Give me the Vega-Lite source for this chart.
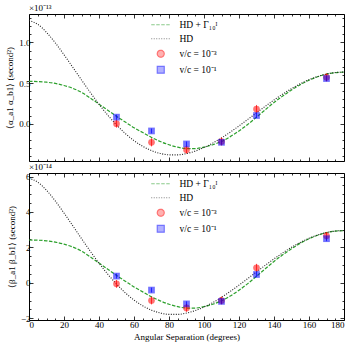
{
  "$schema": "https://vega.github.io/schema/vega-lite/v6.json",
  "padding": {"left": 5, "right": 5, "top": 3, "bottom": 3},
  "spacing": 0,
  "config": {
    "font": "Liberation Serif",
    "view": {"stroke": "black", "strokeWidth": 1},
    "title": {"font": "Liberation Serif", "fontWeight": "normal", "fontSize": 9, "color": "black"},
    "axis": {"labelFont": "Liberation Serif", "titleFont": "Liberation Serif", "labelFontSize": 9, "titleFontSize": 9, "titleFontWeight": "normal", "domain": false, "grid": false, "tickColor": "black", "labelColor": "black", "titleColor": "black", "tickWidth": 0.8},
    "legend": {"labelFont": "Liberation Serif", "labelFontSize": 9.5, "labelColor": "black"}
  },
  "datasets": {
    "green": [
      {"angle": 0, "series": "HD + Γ₁₀ᴵ", "a": 0.52, "b": 2.416},
      {"angle": 5, "series": "HD + Γ₁₀ᴵ", "a": 0.518, "b": 2.407},
      {"angle": 10, "series": "HD + Γ₁₀ᴵ", "a": 0.51, "b": 2.369},
      {"angle": 15, "series": "HD + Γ₁₀ᴵ", "a": 0.495, "b": 2.300},
      {"angle": 20, "series": "HD + Γ₁₀ᴵ", "a": 0.47, "b": 2.184},
      {"angle": 25, "series": "HD + Γ₁₀ᴵ", "a": 0.435, "b": 2.021},
      {"angle": 30, "series": "HD + Γ₁₀ᴵ", "a": 0.385, "b": 1.789},
      {"angle": 35, "series": "HD + Γ₁₀ᴵ", "a": 0.315, "b": 1.463},
      {"angle": 40, "series": "HD + Γ₁₀ᴵ", "a": 0.24, "b": 1.115},
      {"angle": 45, "series": "HD + Γ₁₀ᴵ", "a": 0.165, "b": 0.767},
      {"angle": 50, "series": "HD + Γ₁₀ᴵ", "a": 0.09, "b": 0.418},
      {"angle": 55, "series": "HD + Γ₁₀ᴵ", "a": 0.02, "b": 0.093},
      {"angle": 60, "series": "HD + Γ₁₀ᴵ", "a": -0.05, "b": -0.232},
      {"angle": 65, "series": "HD + Γ₁₀ᴵ", "a": -0.11, "b": -0.511},
      {"angle": 70, "series": "HD + Γ₁₀ᴵ", "a": -0.17, "b": -0.790},
      {"angle": 75, "series": "HD + Γ₁₀ᴵ", "a": -0.22, "b": -1.022},
      {"angle": 80, "series": "HD + Γ₁₀ᴵ", "a": -0.26, "b": -1.208},
      {"angle": 85, "series": "HD + Γ₁₀ᴵ", "a": -0.29, "b": -1.347},
      {"angle": 90, "series": "HD + Γ₁₀ᴵ", "a": -0.307, "b": -1.426},
      {"angle": 95, "series": "HD + Γ₁₀ᴵ", "a": -0.307, "b": -1.426},
      {"angle": 100, "series": "HD + Γ₁₀ᴵ", "a": -0.29, "b": -1.347},
      {"angle": 105, "series": "HD + Γ₁₀ᴵ", "a": -0.26, "b": -1.208},
      {"angle": 110, "series": "HD + Γ₁₀ᴵ", "a": -0.22, "b": -1.022},
      {"angle": 115, "series": "HD + Γ₁₀ᴵ", "a": -0.16, "b": -0.743},
      {"angle": 120, "series": "HD + Γ₁₀ᴵ", "a": -0.09, "b": -0.418},
      {"angle": 125, "series": "HD + Γ₁₀ᴵ", "a": -0.01, "b": -0.046},
      {"angle": 130, "series": "HD + Γ₁₀ᴵ", "a": 0.08, "b": 0.372},
      {"angle": 135, "series": "HD + Γ₁₀ᴵ", "a": 0.17, "b": 0.790},
      {"angle": 140, "series": "HD + Γ₁₀ᴵ", "a": 0.26, "b": 1.208},
      {"angle": 145, "series": "HD + Γ₁₀ᴵ", "a": 0.34, "b": 1.580},
      {"angle": 150, "series": "HD + Γ₁₀ᴵ", "a": 0.415, "b": 1.928},
      {"angle": 155, "series": "HD + Γ₁₀ᴵ", "a": 0.48, "b": 2.230},
      {"angle": 160, "series": "HD + Γ₁₀ᴵ", "a": 0.535, "b": 2.486},
      {"angle": 165, "series": "HD + Γ₁₀ᴵ", "a": 0.578, "b": 2.685},
      {"angle": 170, "series": "HD + Γ₁₀ᴵ", "a": 0.61, "b": 2.834},
      {"angle": 175, "series": "HD + Γ₁₀ᴵ", "a": 0.628, "b": 2.918},
      {"angle": 180, "series": "HD + Γ₁₀ᴵ", "a": 0.635, "b": 2.950}
    ],
    "hd": [
      {"angle": 0, "series": "HD", "a": 1.270, "b": 5.900},
      {"angle": 5, "series": "HD", "a": 1.223, "b": 5.683},
      {"angle": 10, "series": "HD", "a": 1.124, "b": 5.222},
      {"angle": 15, "series": "HD", "a": 0.995, "b": 4.622},
      {"angle": 20, "series": "HD", "a": 0.849, "b": 3.942},
      {"angle": 25, "series": "HD", "a": 0.694, "b": 3.224},
      {"angle": 30, "series": "HD", "a": 0.538, "b": 2.497},
      {"angle": 35, "series": "HD", "a": 0.385, "b": 1.787},
      {"angle": 40, "series": "HD", "a": 0.239, "b": 1.112},
      {"angle": 45, "series": "HD", "a": 0.105, "b": 0.488},
      {"angle": 50, "series": "HD", "a": -0.016, "b": -0.073},
      {"angle": 55, "series": "HD", "a": -0.121, "b": -0.561},
      {"angle": 60, "series": "HD", "a": -0.209, "b": -0.972},
      {"angle": 65, "series": "HD", "a": -0.280, "b": -1.300},
      {"angle": 70, "series": "HD", "a": -0.332, "b": -1.544},
      {"angle": 75, "series": "HD", "a": -0.367, "b": -1.705},
      {"angle": 80, "series": "HD", "a": -0.384, "b": -1.783},
      {"angle": 85, "series": "HD", "a": -0.384, "b": -1.783},
      {"angle": 90, "series": "HD", "a": -0.368, "b": -1.709},
      {"angle": 95, "series": "HD", "a": -0.338, "b": -1.569},
      {"angle": 100, "series": "HD", "a": -0.294, "b": -1.368},
      {"angle": 105, "series": "HD", "a": -0.240, "b": -1.115},
      {"angle": 110, "series": "HD", "a": -0.176, "b": -0.818},
      {"angle": 115, "series": "HD", "a": -0.105, "b": -0.487},
      {"angle": 120, "series": "HD", "a": -0.028, "b": -0.131},
      {"angle": 125, "series": "HD", "a": 0.052, "b": 0.239},
      {"angle": 130, "series": "HD", "a": 0.133, "b": 0.616},
      {"angle": 135, "series": "HD", "a": 0.213, "b": 0.990},
      {"angle": 140, "series": "HD", "a": 0.291, "b": 1.351},
      {"angle": 145, "series": "HD", "a": 0.364, "b": 1.691},
      {"angle": 150, "series": "HD", "a": 0.431, "b": 2.003},
      {"angle": 155, "series": "HD", "a": 0.491, "b": 2.279},
      {"angle": 160, "series": "HD", "a": 0.541, "b": 2.514},
      {"angle": 165, "series": "HD", "a": 0.581, "b": 2.701},
      {"angle": 170, "series": "HD", "a": 0.611, "b": 2.838},
      {"angle": 175, "series": "HD", "a": 0.629, "b": 2.922},
      {"angle": 180, "series": "HD", "a": 0.635, "b": 2.950}
    ],
    "pts": [
      {"angle": 50, "series": "v/c = 10⁻³", "a": 0.00, "a_lo": -0.05, "a_hi": 0.05, "b": -0.06, "b_lo": -0.28, "b_hi": 0.16},
      {"angle": 70, "series": "v/c = 10⁻³", "a": -0.23, "a_lo": -0.28, "a_hi": -0.18, "b": -1.0, "b_lo": -1.22, "b_hi": -0.78},
      {"angle": 90, "series": "v/c = 10⁻³", "a": -0.32, "a_lo": -0.37, "a_hi": -0.27, "b": -1.42, "b_lo": -1.64, "b_hi": -1.2},
      {"angle": 110, "series": "v/c = 10⁻³", "a": -0.22, "a_lo": -0.27, "a_hi": -0.17, "b": -1.0, "b_lo": -1.22, "b_hi": -0.78},
      {"angle": 130, "series": "v/c = 10⁻³", "a": 0.18, "a_lo": 0.13, "a_hi": 0.23, "b": 0.85, "b_lo": 0.63, "b_hi": 1.07},
      {"angle": 170, "series": "v/c = 10⁻³", "a": 0.57, "a_lo": 0.52, "a_hi": 0.62, "b": 2.65, "b_lo": 2.43, "b_hi": 2.87},
      {"angle": 50, "series": "v/c = 10⁻¹", "a": 0.08, "a_lo": 0.05, "a_hi": 0.11, "b": 0.38, "b_lo": 0.24, "b_hi": 0.52},
      {"angle": 70, "series": "v/c = 10⁻¹", "a": -0.09, "a_lo": -0.12, "a_hi": -0.06, "b": -0.41, "b_lo": -0.55, "b_hi": -0.27},
      {"angle": 90, "series": "v/c = 10⁻¹", "a": -0.25, "a_lo": -0.28, "a_hi": -0.22, "b": -1.19, "b_lo": -1.33, "b_hi": -1.05},
      {"angle": 110, "series": "v/c = 10⁻¹", "a": -0.23, "a_lo": -0.26, "a_hi": -0.2, "b": -1.05, "b_lo": -1.19, "b_hi": -0.91},
      {"angle": 130, "series": "v/c = 10⁻¹", "a": 0.10, "a_lo": 0.07, "a_hi": 0.13, "b": 0.47, "b_lo": 0.33, "b_hi": 0.61},
      {"angle": 170, "series": "v/c = 10⁻¹", "a": 0.555, "a_lo": 0.525, "a_hi": 0.585, "b": 2.49, "b_lo": 2.35, "b_hi": 2.63}
    ]
  },
  "resolve": {"scale": {"color": "independent", "shape": "independent", "strokeDash": "independent"}},
  "vconcat": [
    {
      "width": 315, "height": 147,
      "title": {"text": "×10⁻¹³", "anchor": "start", "frame": "group", "offset": 1},
      "resolve": {"axis": {"x": "independent", "y": "independent"}},
      "layer": [
        {
          "data": {"name": "green"},
          "mark": {"type": "line", "strokeWidth": 1.2, "interpolate": "monotone"},
          "encoding": {
            "x": {"field": "angle", "type": "quantitative", "scale": {"domain": [0, 180], "nice": false}, "axis": {"orient": "bottom", "values": [0, 20, 40, 60, 80, 100, 120, 140, 160, 180], "tickSize": -4, "labels": false, "title": null}},
            "y": {"field": "a", "type": "quantitative", "scale": {"domain": [-0.46, 1.35], "nice": false, "zero": false}, "axis": {"orient": "left", "values": [0, 0.5, 1.0], "format": ".1f", "tickSize": -4, "labelPadding": 3, "title": "⟨α_a1 α_b1⟩ (second²)", "titlePadding": 4}},
            "color": {"field": "series", "type": "nominal", "scale": {"domain": ["HD + Γ₁₀ᴵ", "HD", "v/c = 10⁻³", "v/c = 10⁻¹"], "range": ["#2ca02c", "#222222", "#ff0000", "#0000ff"]},
              "legend": {"orient": "none", "legendX": 127, "legendY": 6, "title": null, "padding": 0, "rowPadding": 3, "labelOffset": 14, "symbolSize": 48, "symbolStrokeWidth": 1.2}},
            "strokeDash": {"field": "series", "type": "nominal", "scale": {"domain": ["HD + Γ₁₀ᴵ", "HD", "v/c = 10⁻³", "v/c = 10⁻¹"], "range": [[3.5, 1.5], [1, 1.5], [1, 0], [1, 0]]}}
          }
        },
        {
          "data": {"name": "hd"},
          "mark": {"type": "line", "strokeWidth": 1.1, "interpolate": "monotone"},
          "encoding": {
            "x": {"field": "angle", "type": "quantitative", "axis": {"orient": "bottom", "values": [5, 10, 15, 25, 30, 35, 45, 50, 55, 65, 70, 75, 85, 90, 95, 105, 110, 115, 125, 130, 135, 145, 150, 155, 165, 170, 175], "tickSize": -2, "labels": false, "title": null}},
            "y": {"field": "a", "type": "quantitative", "axis": {"orient": "left", "values": [-0.4, -0.3, -0.2, -0.1, 0.1, 0.2, 0.3, 0.4, 0.6, 0.7, 0.8, 0.9, 1.1, 1.2, 1.3], "tickSize": -2, "labels": false, "title": null}},
            "color": {"field": "series", "type": "nominal", "legend": null},
            "strokeDash": {"field": "series", "type": "nominal", "legend": null}
          }
        },
        {
          "data": {"name": "pts"},
          "mark": {"type": "rule", "strokeWidth": 1, "opacity": 0.7},
          "encoding": {
            "x": {"field": "angle", "type": "quantitative", "axis": {"orient": "top", "values": [0, 20, 40, 60, 80, 100, 120, 140, 160, 180], "tickSize": -4, "labels": false, "title": null}},
            "y": {"field": "a_lo", "type": "quantitative", "axis": {"orient": "right", "values": [0, 0.5, 1.0], "tickSize": -4, "labels": false, "title": null}},
            "y2": {"field": "a_hi"},
            "color": {"field": "series", "type": "nominal", "legend": null}
          }
        },
        {
          "data": {"name": "pts"},
          "mark": {"type": "point", "filled": true, "opacity": 0.55, "size": 45},
          "encoding": {
            "x": {"field": "angle", "type": "quantitative", "axis": {"orient": "top", "values": [5, 10, 15, 25, 30, 35, 45, 50, 55, 65, 70, 75, 85, 90, 95, 105, 110, 115, 125, 130, 135, 145, 150, 155, 165, 170, 175], "tickSize": -2, "labels": false, "title": null}},
            "y": {"field": "a", "type": "quantitative", "axis": {"orient": "right", "values": [-0.4, -0.3, -0.2, -0.1, 0.1, 0.2, 0.3, 0.4, 0.6, 0.7, 0.8, 0.9, 1.1, 1.2, 1.3], "tickSize": -2, "labels": false, "title": null}},
            "color": {"field": "series", "type": "nominal", "legend": null},
            "shape": {"field": "series", "type": "nominal", "scale": {"domain": ["HD + Γ₁₀ᴵ", "HD", "v/c = 10⁻³", "v/c = 10⁻¹"], "range": ["M-2.75,0H2.75", "M-2.75,0H2.75", "circle", "square"]}}
          }
        }
      ]
    },
    {
      "width": 315, "height": 147,
      "title": {"text": "×10⁻¹⁴", "anchor": "start", "frame": "group", "offset": 1},
      "resolve": {"axis": {"x": "independent", "y": "independent"}},
      "layer": [
        {
          "data": {"name": "green"},
          "mark": {"type": "line", "strokeWidth": 1.2, "interpolate": "monotone"},
          "encoding": {
            "x": {"field": "angle", "type": "quantitative", "scale": {"domain": [0, 180], "nice": false}, "axis": {"orient": "bottom", "values": [0, 20, 40, 60, 80, 100, 120, 140, 160, 180], "tickSize": -4, "labelPadding": 4, "title": "Angular Separation (degrees)", "titlePadding": 3}},
            "y": {"field": "b", "type": "quantitative", "scale": {"domain": [-2.1, 6.2], "nice": false, "zero": false}, "axis": {"orient": "left", "values": [-2, 0, 2, 4, 6], "tickSize": -4, "labelPadding": 3, "title": "⟨β_a1 β_b1⟩ (second²)", "titlePadding": 4}},
            "color": {"field": "series", "type": "nominal", "scale": {"domain": ["HD + Γ₁₀ᴵ", "HD", "v/c = 10⁻³", "v/c = 10⁻¹"], "range": ["#2ca02c", "#222222", "#ff0000", "#0000ff"]},
              "legend": {"orient": "none", "legendX": 127, "legendY": 6, "title": null, "padding": 0, "rowPadding": 3, "labelOffset": 14, "symbolSize": 48, "symbolStrokeWidth": 1.2}},
            "strokeDash": {"field": "series", "type": "nominal", "scale": {"domain": ["HD + Γ₁₀ᴵ", "HD", "v/c = 10⁻³", "v/c = 10⁻¹"], "range": [[3.5, 1.5], [1, 1.5], [1, 0], [1, 0]]}}
          }
        },
        {
          "data": {"name": "hd"},
          "mark": {"type": "line", "strokeWidth": 1.1, "interpolate": "monotone"},
          "encoding": {
            "x": {"field": "angle", "type": "quantitative", "axis": {"orient": "bottom", "values": [5, 10, 15, 25, 30, 35, 45, 50, 55, 65, 70, 75, 85, 90, 95, 105, 110, 115, 125, 130, 135, 145, 150, 155, 165, 170, 175], "tickSize": -2, "labels": false, "title": null}},
            "y": {"field": "b", "type": "quantitative", "axis": {"orient": "left", "values": [-1.5, -1, -0.5, 0.5, 1, 1.5, 2.5, 3, 3.5, 4.5, 5, 5.5], "tickSize": -2, "labels": false, "title": null}},
            "color": {"field": "series", "type": "nominal", "legend": null},
            "strokeDash": {"field": "series", "type": "nominal", "legend": null}
          }
        },
        {
          "data": {"name": "pts"},
          "mark": {"type": "rule", "strokeWidth": 1, "opacity": 0.7},
          "encoding": {
            "x": {"field": "angle", "type": "quantitative", "axis": {"orient": "top", "values": [0, 20, 40, 60, 80, 100, 120, 140, 160, 180], "tickSize": -4, "labels": false, "title": null}},
            "y": {"field": "b_lo", "type": "quantitative", "axis": {"orient": "right", "values": [-2, 0, 2, 4, 6], "tickSize": -4, "labels": false, "title": null}},
            "y2": {"field": "b_hi"},
            "color": {"field": "series", "type": "nominal", "legend": null}
          }
        },
        {
          "data": {"name": "pts"},
          "mark": {"type": "point", "filled": true, "opacity": 0.55, "size": 45},
          "encoding": {
            "x": {"field": "angle", "type": "quantitative", "axis": {"orient": "top", "values": [5, 10, 15, 25, 30, 35, 45, 50, 55, 65, 70, 75, 85, 90, 95, 105, 110, 115, 125, 130, 135, 145, 150, 155, 165, 170, 175], "tickSize": -2, "labels": false, "title": null}},
            "y": {"field": "b", "type": "quantitative", "axis": {"orient": "right", "values": [-1.5, -1, -0.5, 0.5, 1, 1.5, 2.5, 3, 3.5, 4.5, 5, 5.5], "tickSize": -2, "labels": false, "title": null}},
            "color": {"field": "series", "type": "nominal", "legend": null},
            "shape": {"field": "series", "type": "nominal", "scale": {"domain": ["HD + Γ₁₀ᴵ", "HD", "v/c = 10⁻³", "v/c = 10⁻¹"], "range": ["M-2.75,0H2.75", "M-2.75,0H2.75", "circle", "square"]}}
          }
        }
      ]
    }
  ]
}
